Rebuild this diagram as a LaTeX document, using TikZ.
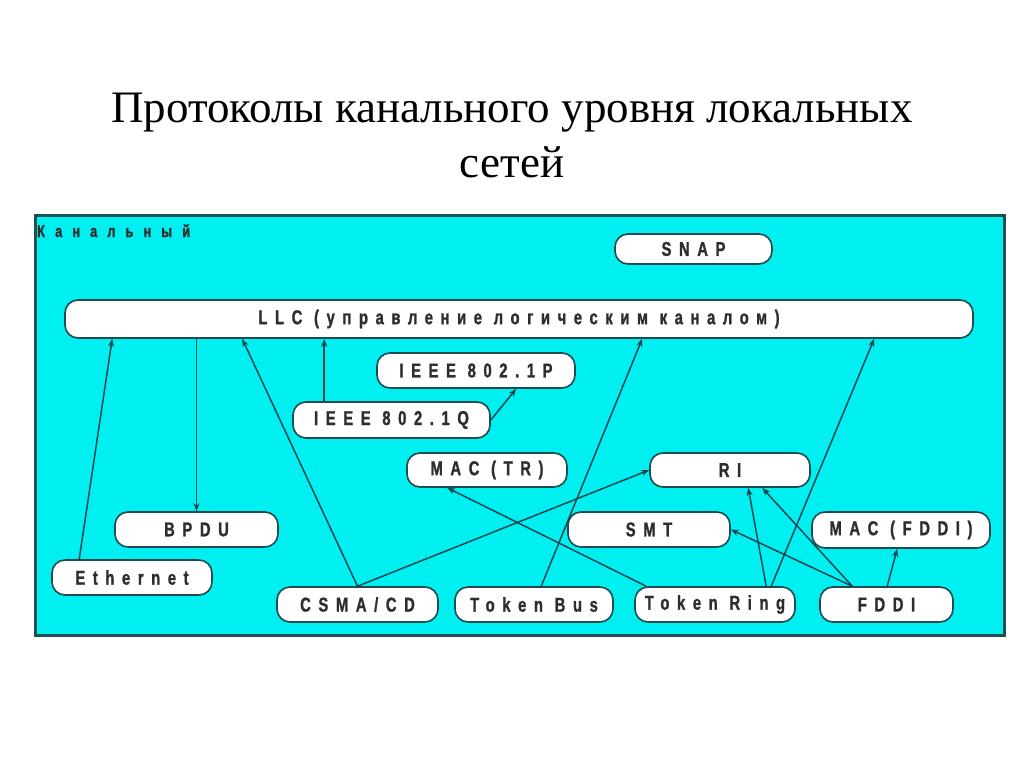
\documentclass[tikz,border=0pt]{standalone}
\usepackage{fontspec}
\setmainfont{Liberation Serif}
\newfontfamily\boxfont{Liberation Sans Bold}[LetterSpace=38,FakeStretch=0.74,FakeBold=1.2]
\newfontfamily\lblfont{Liberation Sans Bold}[LetterSpace=60,FakeStretch=0.74,FakeBold=1.5]
\usetikzlibrary{arrows.meta,calc}
\definecolor{bgcyan}{HTML}{00F0F2}
\definecolor{framec}{HTML}{1E4F55}
\definecolor{edgec}{HTML}{1F4A50}
\definecolor{linec}{HTML}{124650}
\definecolor{txtc}{HTML}{2E2E2E}
\begin{document}
\begin{tikzpicture}[x=1pt,y=-1pt,
  box/.style={draw=edgec, fill=white, line width=1.6pt, rounded corners=13pt,
    inner sep=0pt, text=txtc, font=\boxfont\fontsize{20}{22}\selectfont},
  conn/.style={draw=linec, line width=1.5pt, -{Stealth[length=8pt,width=6pt]}}]
\useasboundingbox (0,0) rectangle (1024,768);
\fill[white] (0,0) rectangle (1024,768);
% title
\node[anchor=base, font=\fontsize{45}{50}\selectfont] (title1) at (512,122) {Протоколы канального уровня локальных};
\node[anchor=base, font=\fontsize{45}{50}\selectfont] (title2) at (512,177) {сетей};
% frame
\draw[draw=framec, fill=bgcyan, line width=3pt] (35,215) rectangle (1004,635);
\node[anchor=base west, inner sep=0pt, text=txtc, font=\lblfont\fontsize{17}{19}\selectfont] (lbl) at (37,237) {Канальный};
% nodes
\node[box, minimum width=908pt, minimum height=38pt] (llc) at (519,319) {LLC (управление логическим каналом)};
\node[box, minimum width=157pt, minimum height=30pt] (snap) at (693.5,249) {SNAP};
\node[box, minimum width=198pt, minimum height=35pt] (p) at (476,370.5) {IEEE 802.1P};
\node[box, minimum width=197pt, minimum height=36pt] (q) at (391.5,420) {IEEE 802.1Q};
\node[box, minimum width=160pt, minimum height=34pt] (mactr) at (487,470) {MAC (TR)};
\node[box, minimum width=160pt, minimum height=34pt] (ri) at (730,470) {RI};
\node[box, minimum width=163pt, minimum height=35pt] (bpdu) at (196.5,529.5) {BPDU};
\node[box, minimum width=162pt, minimum height=35pt] (smt) at (649,529.5) {SMT};
\node[box, minimum width=178pt, minimum height=36pt] (macfddi) at (901,530) {MAC (FDDI)};
\node[box, minimum width=160pt, minimum height=35pt] (eth) at (132,577.5) {Ethernet};
\node[box, minimum width=161pt, minimum height=35pt] (csma) at (357.5,604.5) {CSMA/CD};
\node[box, minimum width=158pt, minimum height=35pt] (tbus) at (534,604.5) {Token Bus};
\node[box, minimum width=160pt, minimum height=35pt] (tring) at (715,604.5) {Token Ring};
\node[box, minimum width=133pt, minimum height=35pt] (fddi) at (886.5,604.5) {FDDI};
% connectors
\draw[conn] ([xshift=28pt]eth.north west) -- ([xshift=48pt]llc.south west);
\draw[conn] (bpdu.north |- llc.south) -- (bpdu.north);
\draw[conn] (csma.north) -- ([xshift=178pt]llc.south west);
\draw[conn] (csma.north) -- (ri.west);
\draw[conn] ([xshift=32pt]q.north west) -- ([xshift=32pt]q.north west |- llc.south);
\draw[conn] (q.east) -- ([xshift=140pt]p.south west);
\draw[conn] ([xshift=87pt]tbus.north west) -- ([xshift=578pt]llc.south west);
\draw[conn] ([xshift=12pt]tring.north west) -- ([xshift=41pt]mactr.south west);
\draw[conn] ([xshift=132pt]tring.north west) -- ([xshift=99pt]ri.south west);
\draw[conn] ([xshift=137pt]tring.north west) -- ([xshift=810pt]llc.south west);
\draw[conn] ([xshift=33pt]fddi.north west) -- (smt.east);
\draw[conn] ([xshift=33pt]fddi.north west) -- ([xshift=113pt]ri.south west);
\draw[conn] ([xshift=68pt]fddi.north west) -- ([xshift=86pt]macfddi.south west);
\end{tikzpicture}
\end{document}
